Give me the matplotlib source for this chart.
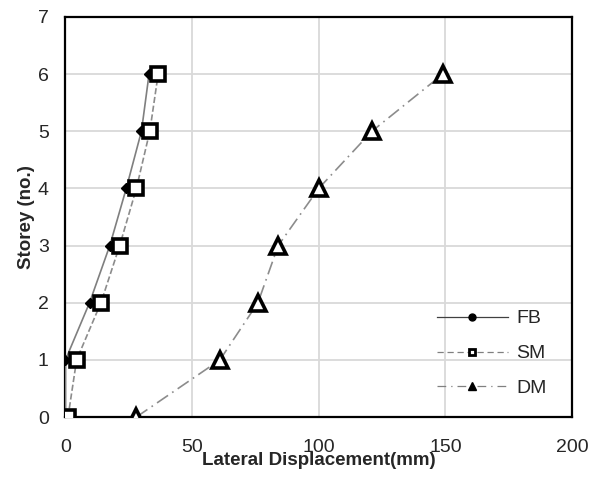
import matplotlib
matplotlib.use('Agg')
import matplotlib.pyplot as plt
from matplotlib.lines import Line2D

plt.rcParams['font.family'] = ['Liberation Sans', 'DejaVu Sans']

# ── Data ──────────────────────────────────────────────────────────────────────
storey = [0, 1, 2, 3, 4, 5, 6]
fb = [0, 0, 9.5, 17.5, 24, 30, 33]
sm = [1, 4.4, 14, 21.4, 28, 33.3, 36.6]
dm = [28, 61, 76, 84, 100, 121, 149]
labels = ['FB', 'SM', 'DM']

fig = plt.figure(figsize=(5.98, 4.84), dpi=100)
ax = fig.add_axes([0.1095, 0.1384, 0.847, 0.8266])

ax.plot(fb, storey, '-', color='#7f7f7f', lw=1.2, marker='D', ms=5,
        mfc='black', mec='black', zorder=4)
ax.plot(sm, storey, '--', color='#8c8c8c', lw=1.2, marker='s', ms=9.5,
        mfc='white', mec='black', mew=2.6, zorder=5)
ax.plot(dm, storey, linestyle=(0, (8, 3, 1, 3)), color='#8c8c8c', lw=1.2,
        marker='^', ms=11, mfc='white', mec='black', mew=2.6, zorder=5)

ax.set_xlim(0, 200)
ax.set_ylim(0, 7)
ax.set_xticks([0, 50, 100, 150, 200])
ax.set_yticks(range(8))
ax.grid(color='#d9d9d9', lw=1.3)
ax.set_axisbelow(True)
for s in ax.spines.values():
    s.set_color('black')
    s.set_linewidth(1.6)
ax.tick_params(length=0, labelsize=14, labelcolor='#262626')
ax.tick_params(axis='y', pad=12)
ax.tick_params(axis='x', pad=16)

ax.set_xlabel('Lateral Displacement(mm)', fontsize=13.5, fontweight='bold',
              labelpad=-3, color='#262626')
ax.set_ylabel('Storey (no.)', fontsize=13.5, fontweight='bold', labelpad=2,
              color='#262626')

handles = [
    Line2D([], [], color='#404040', lw=0.9, marker='o', ms=5, mfc='black', mec='black'),
    Line2D([], [], color='#808080', lw=0.9, ls=(0, (5, 3)), marker='s', ms=5,
           mfc='white', mec='black', mew=2),
    Line2D([], [], color='#808080', lw=0.9, ls=(0, (7, 4, 1, 4)), marker='^',
           ms=6, mfc='black', mec='black'),
]
ax.legend(handles, labels, loc='upper left', frameon=False, fontsize=14,
          handlelength=3.65, handletextpad=0.45, labelspacing=0.89,
          borderpad=0, borderaxespad=0, bbox_to_anchor=(0.733, 0.268),
          labelcolor='#262626')

fig.savefig('out.png', dpi=100)
